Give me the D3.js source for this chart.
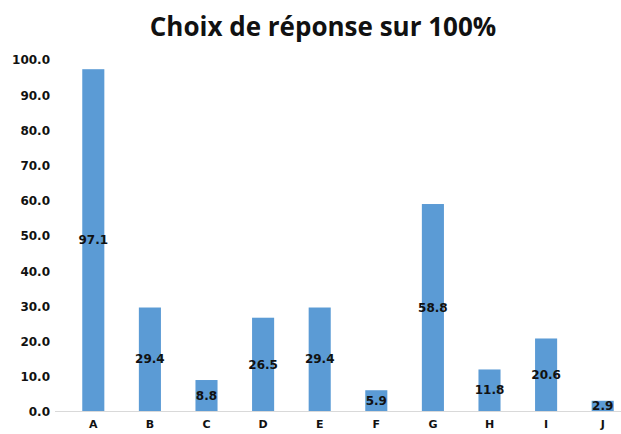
<!DOCTYPE html>
<html>
<head>
<meta charset="utf-8">
<script src="https://cdn.jsdelivr.net/npm/d3@7"></script>
<style>
  body { margin: 0; background: #fff; }
  svg { display: block; }
</style>
</head>
<body>
<div id="chart"></div>
<script>
// chart data
var categories = ["A", "B", "C", "D", "E", "F", "G", "H", "I", "J"];
var values = [97.1, 29.4, 8.8, 26.5, 29.4, 5.9, 58.8, 11.8, 20.6, 2.9];
var yTicks = [0, 10, 20, 30, 40, 50, 60, 70, 80, 90, 100];
var title = "Choix de réponse sur 100%";

var W = 621, H = 434;
var titleFont = "'Open Sans', 'Liberation Sans', sans-serif";
var font = "'DejaVu Sans', Verdana, sans-serif";

var svg = d3.select("#chart").append("svg")
    .attr("width", W)
    .attr("height", H);

var x = d3.scaleBand()
    .domain(categories)
    .range([65, 631])
    .paddingInner(0.61)
    .paddingOuter(0.305);

var y = d3.scaleLinear()
    .domain([0, 100])
    .range([411, 59]);

// title
svg.append("text")
    .attr("x", 323)
    .attr("y", 36)
    .attr("text-anchor", "middle")
    .style("font-family", titleFont)
    .style("font-weight", 700)
    .style("font-size", "26px")
    .style("fill", "#111")
    .text(title);

// y axis labels
var yAxis = d3.axisLeft(y)
    .tickValues(yTicks)
    .tickSize(0)
    .tickPadding(0)
    .tickFormat(d3.format(".1f"));

var yG = svg.append("g")
    .attr("transform", "translate(50,1)")
    .call(yAxis);
yG.select(".domain").remove();
yG.selectAll("text")
    .style("font-family", font)
    .style("font-weight", 700)
    .style("font-size", "12px")
    .style("fill", "#111");

// bars
svg.selectAll(".bar")
    .data(values)
    .enter().append("rect")
    .attr("class", "bar")
    .attr("x", function (d, i) { return x(categories[i]); })
    .attr("width", x.bandwidth())
    .attr("y", function (d) { return y(d); })
    .attr("height", function (d) { return y(0) - y(d); })
    .attr("fill", "#5b9bd5");

// baseline
svg.append("line")
    .attr("x1", 55)
    .attr("x2", W)
    .attr("y1", y(0) + 0.5)
    .attr("y2", y(0) + 0.5)
    .attr("stroke", "#d9d9d9")
    .attr("stroke-width", 1);

// value labels, centred in each bar
svg.selectAll(".val")
    .data(values)
    .enter().append("text")
    .attr("class", "val")
    .attr("x", function (d, i) { return x(categories[i]) + x.bandwidth() / 2; })
    .attr("y", function (d) { return (y(d) + y(0)) / 2; })
    .attr("dy", "0.35em")
    .attr("text-anchor", "middle")
    .style("font-family", font)
    .style("font-weight", 700)
    .style("font-size", "12px")
    .style("fill", "#111")
    .text(function (d) { return d3.format(".1f")(d); });

// x axis labels, kept just inside the bottom edge
var xAxis = d3.axisBottom(x).tickSize(0).tickPadding(0);
var xG = svg.append("g")
    .attr("transform", "translate(0,420)")
    .call(xAxis);
xG.select(".domain").remove();
xG.selectAll("text")
    .style("font-family", font)
    .style("font-weight", 700)
    .style("font-size", "11px")
    .style("fill", "#111");
</script>
</body>
</html>
